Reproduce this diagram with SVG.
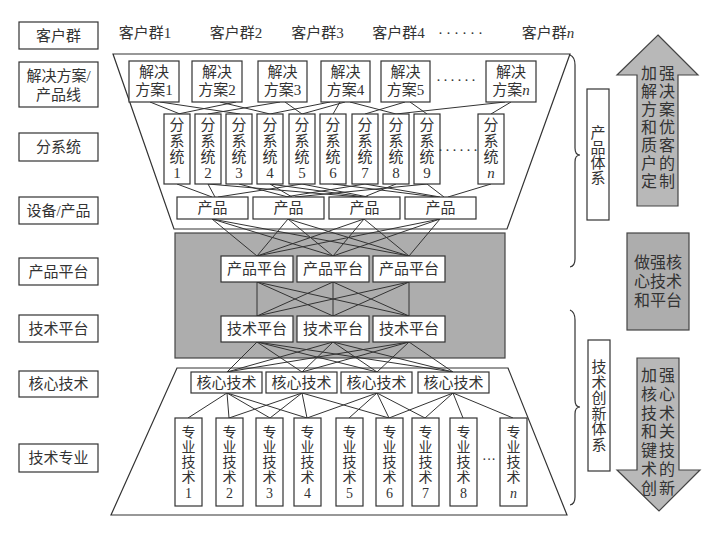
<svg xmlns="http://www.w3.org/2000/svg" width="720" height="537" viewBox="0 0 720 537">
<style>
.b{fill:#fff;stroke:#333;stroke-width:1.2}
.t{font-family:"Liberation Serif","Noto Sans CJK SC",serif;font-size:15px;fill:#333;text-anchor:middle}
.s{font-size:14px}
.g{fill:#adadad;stroke:#444;stroke-width:1.2}
.a{fill:#b8b8b8;stroke:#444;stroke-width:1.2}
.o{fill:none;stroke:#333;stroke-width:1.2}
#connectors line{stroke:#333;stroke-width:1}
</style>
<rect width="720" height="537" fill="#fff"/>
<g id="frames">
<polygon class="o" points="113,54 570,54 507,229 174,229"/>
<rect class="g" x="175" y="233" width="330" height="125"/>
<polygon class="o" points="177,368 508,368 567,515 111,515"/>
<path class="o" d="M570,55 Q575,57 575,65 L575,148 Q575,155 580,155 Q575,155 575,162 L575,259 Q575,266 570,267"/>
<path class="o" d="M570,310 Q575,312 575,320 L575,400 Q575,407 580,407 Q575,407 575,414 L575,497 Q575,504 570,505"/>
</g>
<g id="connectors">
<line x1="150" y1="102" x2="180" y2="114"/><line x1="160" y1="102" x2="240" y2="114"/>
<line x1="178" y1="114" x2="236" y2="102"/><line x1="220" y1="102" x2="270" y2="114"/>
<line x1="208" y1="114" x2="280" y2="102"/><line x1="285" y1="102" x2="302" y2="114"/>
<line x1="302" y1="114" x2="345" y2="102"/><line x1="340" y1="102" x2="333" y2="114"/>
<line x1="350" y1="102" x2="396" y2="114"/><line x1="365" y1="114" x2="405" y2="102"/>
<line x1="410" y1="102" x2="427" y2="114"/><line x1="396" y1="114" x2="505" y2="102"/>
<line x1="511" y1="102" x2="491" y2="114"/><line x1="270" y1="114" x2="330" y2="102"/>
<line x1="177" y1="184" x2="212" y2="197"/><line x1="208" y1="184" x2="215" y2="197"/>
<line x1="208" y1="184" x2="360" y2="197"/><line x1="239" y1="184" x2="288" y2="197"/>
<line x1="270" y1="184" x2="292" y2="197"/><line x1="270" y1="184" x2="364" y2="197"/>
<line x1="302" y1="184" x2="218" y2="197"/><line x1="302" y1="184" x2="368" y2="197"/>
<line x1="333" y1="184" x2="436" y2="197"/><line x1="365" y1="184" x2="285" y2="197"/>
<line x1="365" y1="184" x2="440" y2="197"/><line x1="396" y1="184" x2="364" y2="197"/>
<line x1="427" y1="184" x2="444" y2="197"/><line x1="427" y1="184" x2="295" y2="197"/>
<line x1="491" y1="184" x2="448" y2="197"/>
<line x1="212" y1="219" x2="257" y2="256"/><line x1="212" y1="219" x2="333" y2="256"/><line x1="212" y1="219" x2="409" y2="256"/>
<line x1="288" y1="219" x2="257" y2="256"/><line x1="288" y1="219" x2="333" y2="256"/><line x1="288" y1="219" x2="409" y2="256"/>
<line x1="364" y1="219" x2="257" y2="256"/><line x1="364" y1="219" x2="333" y2="256"/><line x1="364" y1="219" x2="409" y2="256"/>
<line x1="440" y1="219" x2="257" y2="256"/><line x1="440" y1="219" x2="333" y2="256"/><line x1="440" y1="219" x2="409" y2="256"/>
<line x1="257" y1="282" x2="257" y2="316"/><line x1="257" y1="282" x2="333" y2="316"/><line x1="257" y1="282" x2="409" y2="316"/>
<line x1="333" y1="282" x2="257" y2="316"/><line x1="333" y1="282" x2="333" y2="316"/><line x1="333" y1="282" x2="409" y2="316"/>
<line x1="409" y1="282" x2="257" y2="316"/><line x1="409" y1="282" x2="333" y2="316"/><line x1="409" y1="282" x2="409" y2="316"/>
<line x1="257" y1="342" x2="227" y2="372"/><line x1="257" y1="342" x2="302" y2="372"/><line x1="257" y1="342" x2="377" y2="372"/><line x1="257" y1="342" x2="453" y2="372"/>
<line x1="333" y1="342" x2="227" y2="372"/><line x1="333" y1="342" x2="302" y2="372"/><line x1="333" y1="342" x2="377" y2="372"/><line x1="333" y1="342" x2="453" y2="372"/>
<line x1="409" y1="342" x2="227" y2="372"/><line x1="409" y1="342" x2="302" y2="372"/><line x1="409" y1="342" x2="377" y2="372"/><line x1="409" y1="342" x2="453" y2="372"/>
<line x1="227" y1="393" x2="188" y2="418"/><line x1="227" y1="393" x2="229" y2="418"/><line x1="227" y1="393" x2="270" y2="418"/><line x1="227" y1="393" x2="307" y2="418"/>
<line x1="302" y1="393" x2="229" y2="418"/><line x1="302" y1="393" x2="270" y2="418"/><line x1="302" y1="393" x2="307" y2="418"/><line x1="302" y1="393" x2="389" y2="418"/>
<line x1="377" y1="393" x2="307" y2="418"/><line x1="377" y1="393" x2="349" y2="418"/><line x1="377" y1="393" x2="389" y2="418"/><line x1="377" y1="393" x2="425" y2="418"/>
<line x1="453" y1="393" x2="389" y2="418"/><line x1="453" y1="393" x2="425" y2="418"/><line x1="453" y1="393" x2="463" y2="418"/><line x1="453" y1="393" x2="513" y2="418"/>
</g>
<g id="labels-left">
<g id="L1"><rect class="b" x="19" y="22" width="79" height="27"/><text class="t" x="58.5" y="40.5">客户群</text></g>
<g id="L2"><rect class="b" x="19" y="62" width="79" height="45"/><text class="t" x="58.5" y="81">解决方案/</text><text class="t" x="58.5" y="100">产品线</text></g>
<g id="L3"><rect class="b" x="19" y="133" width="79" height="28"/><text class="t" x="58.5" y="152">分系统</text></g>
<g id="L4"><rect class="b" x="19" y="197" width="79" height="27"/><text class="t" x="58.5" y="215.5">设备/产品</text></g>
<g id="L5"><rect class="b" x="19" y="258" width="79" height="27"/><text class="t" x="58.5" y="276.5">产品平台</text></g>
<g id="L6"><rect class="b" x="19" y="315" width="79" height="27"/><text class="t" x="58.5" y="333.5">技术平台</text></g>
<g id="L7"><rect class="b" x="19" y="371" width="79" height="26"/><text class="t" x="58.5" y="389">核心技术</text></g>
<g id="L8"><rect class="b" x="19" y="444" width="79" height="28"/><text class="t" x="58.5" y="463">技术专业</text></g>
</g>
<g id="customers">
<text class="t" x="145" y="38">客户群1</text>
<text class="t" x="236" y="38">客户群2</text>
<text class="t" x="317.5" y="38">客户群3</text>
<text class="t" x="398.5" y="38">客户群4</text>
<text class="t" x="462" y="38" style="letter-spacing:3px">······</text>
<text class="t" x="548" y="38">客户群<tspan font-style="italic">n</tspan></text>
</g>
<g id="solutions">
<g id="S1"><rect class="b" x="129" y="61" width="50" height="41"/><text class="t" x="154" y="77">解决</text><text class="t" x="154" y="95">方案1</text></g>
<g id="S2"><rect class="b" x="192" y="61" width="50" height="41"/><text class="t" x="217" y="77">解决</text><text class="t" x="217" y="95">方案2</text></g>
<g id="S3"><rect class="b" x="258" y="61" width="49" height="41"/><text class="t" x="282.5" y="77">解决</text><text class="t" x="282.5" y="95">方案3</text></g>
<g id="S4"><rect class="b" x="321" y="61" width="49" height="41"/><text class="t" x="345.5" y="77">解决</text><text class="t" x="345.5" y="95">方案4</text></g>
<g id="S5"><rect class="b" x="381" y="61" width="49" height="41"/><text class="t" x="405.5" y="77">解决</text><text class="t" x="405.5" y="95">方案5</text></g>
<text class="t" x="457" y="85" style="letter-spacing:2px">······</text>
<g id="Sn"><rect class="b" x="486" y="61" width="50" height="41"/><text class="t" x="511" y="77">解决</text><text class="t" x="511" y="95">方案<tspan font-style="italic">n</tspan></text></g>
</g>
<g id="subsystems">
<g id="F1"><rect class="b" x="164" y="114" width="26" height="70"/><text class="t" x="177" y="130">分</text><text class="t" x="177" y="146">系</text><text class="t" x="177" y="162">统</text><text class="t" x="177" y="178">1</text></g>
<g id="F2"><rect class="b" x="195" y="114" width="26" height="70"/><text class="t" x="208" y="130">分</text><text class="t" x="208" y="146">系</text><text class="t" x="208" y="162">统</text><text class="t" x="208" y="178">2</text></g>
<g id="F3"><rect class="b" x="226" y="114" width="26" height="70"/><text class="t" x="239" y="130">分</text><text class="t" x="239" y="146">系</text><text class="t" x="239" y="162">统</text><text class="t" x="239" y="178">3</text></g>
<g id="F4"><rect class="b" x="257" y="114" width="26" height="70"/><text class="t" x="270" y="130">分</text><text class="t" x="270" y="146">系</text><text class="t" x="270" y="162">统</text><text class="t" x="270" y="178">4</text></g>
<g id="F5"><rect class="b" x="289" y="114" width="26" height="70"/><text class="t" x="302" y="130">分</text><text class="t" x="302" y="146">系</text><text class="t" x="302" y="162">统</text><text class="t" x="302" y="178">5</text></g>
<g id="F6"><rect class="b" x="320" y="114" width="26" height="70"/><text class="t" x="333" y="130">分</text><text class="t" x="333" y="146">系</text><text class="t" x="333" y="162">统</text><text class="t" x="333" y="178">6</text></g>
<g id="F7"><rect class="b" x="352" y="114" width="26" height="70"/><text class="t" x="365" y="130">分</text><text class="t" x="365" y="146">系</text><text class="t" x="365" y="162">统</text><text class="t" x="365" y="178">7</text></g>
<g id="F8"><rect class="b" x="383" y="114" width="26" height="70"/><text class="t" x="396" y="130">分</text><text class="t" x="396" y="146">系</text><text class="t" x="396" y="162">统</text><text class="t" x="396" y="178">8</text></g>
<g id="F9"><rect class="b" x="414" y="114" width="26" height="70"/><text class="t" x="427" y="130">分</text><text class="t" x="427" y="146">系</text><text class="t" x="427" y="162">统</text><text class="t" x="427" y="178">9</text></g>
<text class="t" x="459" y="155" style="letter-spacing:2px">······</text>
<g id="Fn"><rect class="b" x="478" y="114" width="26" height="70"/><text class="t" x="491" y="130">分</text><text class="t" x="491" y="146">系</text><text class="t" x="491" y="162">统</text><text class="t" x="491" y="178" font-style="italic">n</text></g>
</g>
<g id="products">
<g id="P1"><rect class="b" x="177" y="197" width="71" height="22"/><text class="t" x="212.5" y="213">产品</text></g>
<g id="P2"><rect class="b" x="253" y="197" width="71" height="22"/><text class="t" x="288.5" y="213">产品</text></g>
<g id="P3"><rect class="b" x="329" y="197" width="71" height="22"/><text class="t" x="364.5" y="213">产品</text></g>
<g id="P4"><rect class="b" x="405" y="197" width="71" height="22"/><text class="t" x="440.5" y="213">产品</text></g>
</g>
<g id="platforms">
<g id="PP1"><rect class="b" x="221" y="256" width="72" height="26"/><text class="t" x="257" y="274">产品平台</text></g>
<g id="PP2"><rect class="b" x="297" y="256" width="72" height="26"/><text class="t" x="333" y="274">产品平台</text></g>
<g id="PP3"><rect class="b" x="373" y="256" width="72" height="26"/><text class="t" x="409" y="274">产品平台</text></g>
<g id="TP1"><rect class="b" x="221" y="316" width="72" height="26"/><text class="t" x="257" y="334">技术平台</text></g>
<g id="TP2"><rect class="b" x="297" y="316" width="72" height="26"/><text class="t" x="333" y="334">技术平台</text></g>
<g id="TP3"><rect class="b" x="373" y="316" width="72" height="26"/><text class="t" x="409" y="334">技术平台</text></g>
</g>
<g id="core">
<g id="C1"><rect class="b" x="191" y="372" width="71" height="21"/><text class="t" x="226.5" y="388">核心技术</text></g>
<g id="C2"><rect class="b" x="266" y="372" width="71" height="21"/><text class="t" x="301.5" y="388">核心技术</text></g>
<g id="C3"><rect class="b" x="341" y="372" width="71" height="21"/><text class="t" x="376.5" y="388">核心技术</text></g>
<g id="C4"><rect class="b" x="418" y="372" width="71" height="21"/><text class="t" x="453.5" y="388">核心技术</text></g>
</g>
<g id="specialties">
<g id="Z1"><rect class="b" x="175" y="418" width="27" height="88"/><text class="t s" x="188.5" y="437">专</text><text class="t s" x="188.5" y="452">业</text><text class="t s" x="188.5" y="467">技</text><text class="t s" x="188.5" y="482">术</text><text class="t s" x="188.5" y="498">1</text></g>
<g id="Z2"><rect class="b" x="216" y="418" width="27" height="88"/><text class="t s" x="229.5" y="437">专</text><text class="t s" x="229.5" y="452">业</text><text class="t s" x="229.5" y="467">技</text><text class="t s" x="229.5" y="482">术</text><text class="t s" x="229.5" y="498">2</text></g>
<g id="Z3"><rect class="b" x="256" y="418" width="27" height="88"/><text class="t s" x="269.5" y="437">专</text><text class="t s" x="269.5" y="452">业</text><text class="t s" x="269.5" y="467">技</text><text class="t s" x="269.5" y="482">术</text><text class="t s" x="269.5" y="498">3</text></g>
<g id="Z4"><rect class="b" x="294" y="418" width="27" height="88"/><text class="t s" x="307.5" y="437">专</text><text class="t s" x="307.5" y="452">业</text><text class="t s" x="307.5" y="467">技</text><text class="t s" x="307.5" y="482">术</text><text class="t s" x="307.5" y="498">4</text></g>
<g id="Z5"><rect class="b" x="336" y="418" width="27" height="88"/><text class="t s" x="349.5" y="437">专</text><text class="t s" x="349.5" y="452">业</text><text class="t s" x="349.5" y="467">技</text><text class="t s" x="349.5" y="482">术</text><text class="t s" x="349.5" y="498">5</text></g>
<g id="Z6"><rect class="b" x="376" y="418" width="27" height="88"/><text class="t s" x="389.5" y="437">专</text><text class="t s" x="389.5" y="452">业</text><text class="t s" x="389.5" y="467">技</text><text class="t s" x="389.5" y="482">术</text><text class="t s" x="389.5" y="498">6</text></g>
<g id="Z7"><rect class="b" x="412" y="418" width="27" height="88"/><text class="t s" x="425.5" y="437">专</text><text class="t s" x="425.5" y="452">业</text><text class="t s" x="425.5" y="467">技</text><text class="t s" x="425.5" y="482">术</text><text class="t s" x="425.5" y="498">7</text></g>
<g id="Z8"><rect class="b" x="450" y="418" width="27" height="88"/><text class="t s" x="463.5" y="437">专</text><text class="t s" x="463.5" y="452">业</text><text class="t s" x="463.5" y="467">技</text><text class="t s" x="463.5" y="482">术</text><text class="t s" x="463.5" y="498">8</text></g>
<text class="t s" x="489" y="464">···</text>
<g id="Zn"><rect class="b" x="500" y="418" width="27" height="88"/><text class="t s" x="513.5" y="437">专</text><text class="t s" x="513.5" y="452">业</text><text class="t s" x="513.5" y="467">技</text><text class="t s" x="513.5" y="482">术</text><text class="t s" x="513.5" y="498" font-style="italic">n</text></g>
</g>
<g id="systems">
<g id="sysP"><rect class="b" x="587" y="89" width="22" height="131"/><text class="t" x="598" y="138">产</text><text class="t" x="598" y="153">品</text><text class="t" x="598" y="168">体</text><text class="t" x="598" y="183">系</text></g>
<g id="sysT"><rect class="b" x="588" y="340" width="22" height="131"/><text class="t" x="599" y="372">技</text><text class="t" x="599" y="387.6">术</text><text class="t" x="599" y="403.2">创</text><text class="t" x="599" y="418.8">新</text><text class="t" x="599" y="434.4">体</text><text class="t" x="599" y="450">系</text></g>
</g>
<g id="arrows">
<g id="up"><polygon class="a" points="658,35 698,75 678,75 678,206 637,206 637,75 617,75"/>
<g class="t" style="font-size:16px"><text x="649" y="79">加</text><text x="667" y="79">强</text><text x="649" y="97">解</text><text x="667" y="97">决</text><text x="649" y="115">方</text><text x="667" y="115">案</text><text x="649" y="133">和</text><text x="667" y="133">优</text><text x="649" y="151">质</text><text x="667" y="151">客</text><text x="649" y="169">户</text><text x="667" y="169">的</text><text x="649" y="187">定</text><text x="667" y="187">制</text></g></g>
<g id="mid"><rect class="g" x="627" y="233" width="62" height="97"/>
<g class="t" style="font-size:16px"><text x="658" y="268">做强核</text><text x="658" y="287">心技术</text><text x="658" y="306">和平台</text></g></g>
<g id="down"><polygon class="a" points="637,358 679,358 679,470 700,470 659,511 617,470 637,470"/>
<g class="t" style="font-size:16px"><text x="649" y="381">加</text><text x="667" y="381">强</text><text x="649" y="400">核</text><text x="667" y="400">心</text><text x="649" y="419">技</text><text x="667" y="419">术</text><text x="649" y="437">和</text><text x="667" y="437">关</text><text x="649" y="456">键</text><text x="667" y="456">技</text><text x="649" y="475">术</text><text x="667" y="475">的</text><text x="649" y="494">创</text><text x="667" y="494">新</text></g></g>
</g>
</svg>
